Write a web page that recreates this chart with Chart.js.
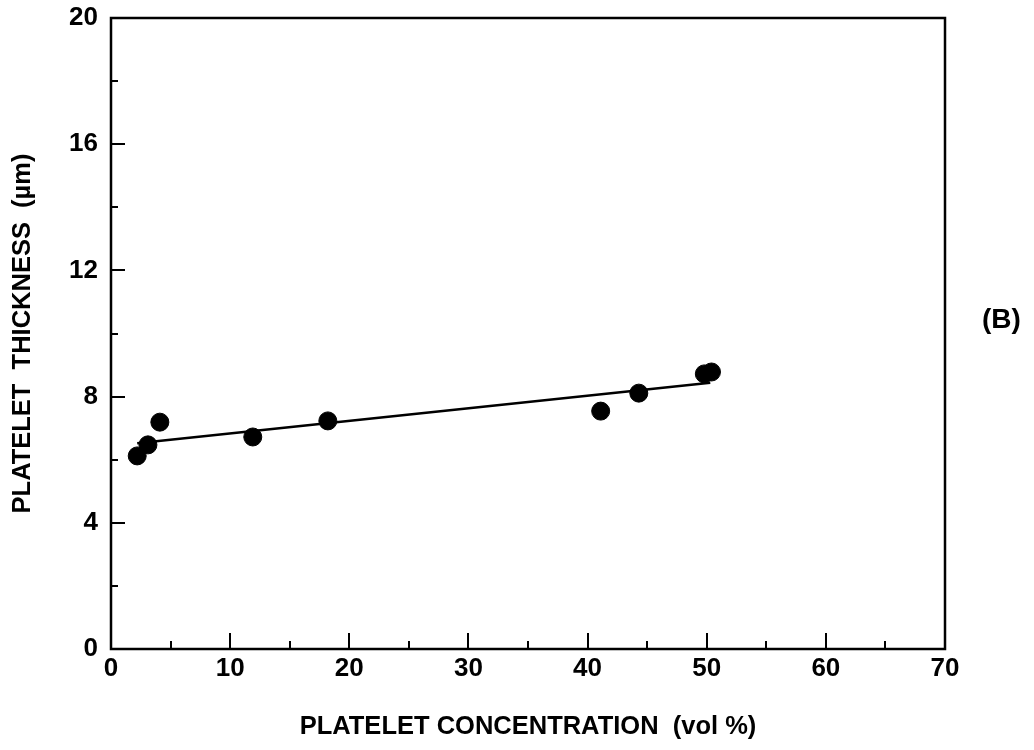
<!DOCTYPE html>
<html lang="en">
<head>
    <meta charset="UTF-8">
    <title>Platelet thickness vs concentration</title>
    <script src="https://cdn.jsdelivr.net/npm/chart.js"></script>
    <style>
        html, body { margin: 0; padding: 0; background: #fff; }
        #wrap { width: 1034px; height: 750px; position: relative; }
    </style>
</head>
<body>
    <div id="wrap"><canvas id="myChart"></canvas></div>

    <script>
        // measured points (vol %, µm)
        const concentration = [2.2, 3.1, 4.1, 11.9, 18.2, 41.1, 44.3, 49.8, 50.4];
        const thickness = [6.12, 6.47, 7.19, 6.72, 7.23, 7.54, 8.11, 8.72, 8.78];

        // fitted line end points
        const fitX = [2.2, 50.3];
        const fitY = [6.52, 8.44];

        const xTicks = [0, 10, 20, 30, 40, 50, 60, 70];
        const yTicks = [0, 4, 8, 12, 16, 20];

        const FONT = '"Liberation Sans", Arial, sans-serif';

        // inward tick marks, major and minor
        const innerTicks = {
            id: 'innerTicks',
            afterDraw(chart) {
                const { ctx, chartArea, scales } = chart;
                ctx.save();
                ctx.strokeStyle = '#000';
                ctx.lineWidth = 2;
                ctx.beginPath();
                for (let v = 5; v < 70; v += 5) {
                    const px = Math.round(scales.x.getPixelForValue(v));
                    const len = v % 10 === 0 ? 16 : 8;
                    ctx.moveTo(px, chartArea.bottom);
                    ctx.lineTo(px, chartArea.bottom - len);
                }
                for (let v = 2; v < 20; v += 2) {
                    const py = Math.round(scales.y.getPixelForValue(v));
                    const len = v % 4 === 0 ? 14 : 7;
                    ctx.moveTo(chartArea.left, py);
                    ctx.lineTo(chartArea.left + len, py);
                }
                ctx.stroke();
                // plot frame
                ctx.lineWidth = 2.5;
                ctx.strokeRect(chartArea.left, chartArea.top,
                    chartArea.right - chartArea.left, chartArea.bottom - chartArea.top);
                // panel label
                ctx.fillStyle = '#000';
                ctx.font = 'bold 28px ' + FONT;
                ctx.textAlign = 'left';
                ctx.textBaseline = 'middle';
                ctx.fillText('(B)', 982, 320);
                ctx.restore();
            }
        };

        const data = {
            datasets: [
                {
                    type: 'scatter',
                    data: concentration.map((x, i) => ({ x: x, y: thickness[i] })),
                    backgroundColor: '#000',
                    borderColor: '#000',
                    pointRadius: 9,
                    pointHoverRadius: 9
                },
                {
                    type: 'line',
                    data: fitX.map((x, i) => ({ x: x, y: fitY[i] })),
                    borderColor: '#000',
                    borderWidth: 2.5,
                    pointRadius: 0,
                    fill: false
                }
            ]
        };

        const config = {
            type: 'scatter',
            data: data,
            plugins: [innerTicks],
            options: {
                responsive: false,
                animation: false,
                layout: { padding: { left: 0, top: 18, right: 89, bottom: 0 } },
                plugins: {
                    legend: { display: false },
                    tooltip: { enabled: false }
                },
                scales: {
                    x: {
                        type: 'linear',
                        min: 0,
                        max: 70,
                        afterBuildTicks: s => { s.ticks = xTicks.map(v => ({ value: v })); },
                        afterFit: s => { s.height = 101; s.paddingLeft = 0; s.paddingRight = 0; },
                        grid: { display: false, drawTicks: false },
                        border: { display: false },
                        ticks: {
                            padding: 4,
                            color: '#000',
                            font: { family: FONT, size: 26, weight: 'bold' }
                        },
                        title: {
                            display: true,
                            text: 'PLATELET CONCENTRATION  (vol %)',
                            color: '#000',
                            padding: { top: 0, bottom: 8 },
                            font: { family: FONT, size: 25.5, weight: 'bold' }
                        }
                    },
                    y: {
                        type: 'linear',
                        min: 0,
                        max: 20,
                        afterBuildTicks: s => { s.ticks = yTicks.map(v => ({ value: v })); },
                        afterFit: s => { s.width = 111; s.paddingTop = 0; s.paddingBottom = 0; },
                        grid: { display: false, drawTicks: false },
                        border: { display: false },
                        ticks: {
                            padding: 13,
                            color: '#000',
                            font: { family: FONT, size: 26, weight: 'bold' }
                        },
                        title: {
                            display: true,
                            text: 'PLATELET  THICKNESS  (µm)',
                            color: '#000',
                            padding: { top: 8, bottom: 0 },
                            font: { family: FONT, size: 25.5, weight: 'bold' }
                        }
                    }
                }
            }
        };

        const canvas = document.getElementById('myChart');
        canvas.width = 1034;
        canvas.height = 750;
        new Chart(canvas, config);
    </script>
</body>
</html>
